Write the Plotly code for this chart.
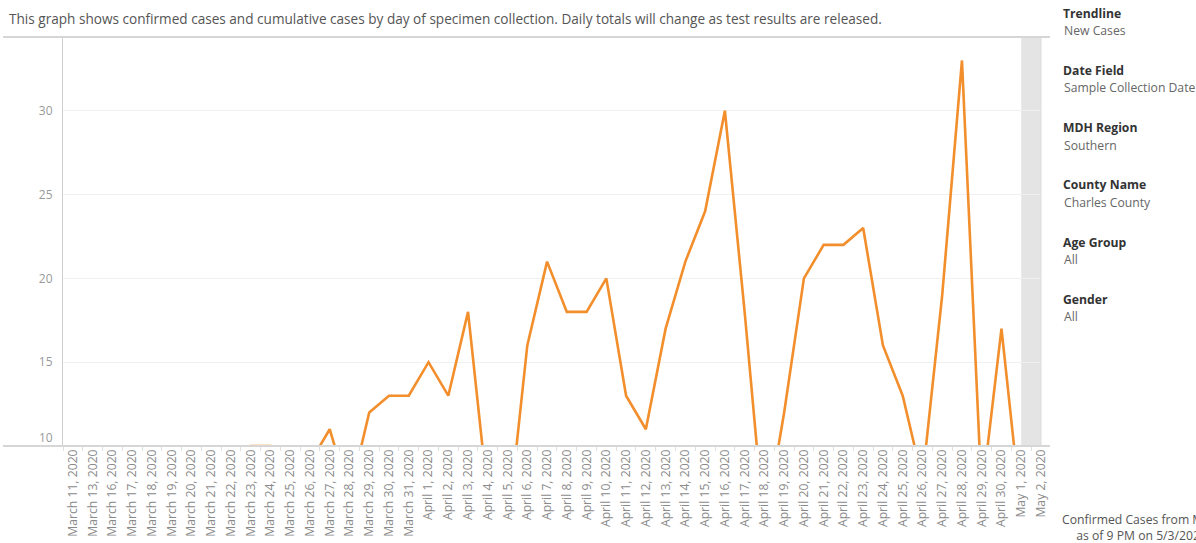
import plotly.graph_objects as go

# ---------------- data ----------------
dates = [
    "March 11, 2020", "March 13, 2020", "March 16, 2020", "March 17, 2020",
    "March 18, 2020", "March 19, 2020", "March 20, 2020", "March 21, 2020",
    "March 22, 2020", "March 23, 2020", "March 24, 2020", "March 25, 2020",
    "March 26, 2020", "March 27, 2020", "March 28, 2020", "March 29, 2020",
    "March 30, 2020", "March 31, 2020",
    "April 1, 2020", "April 2, 2020", "April 3, 2020", "April 4, 2020",
    "April 5, 2020", "April 6, 2020", "April 7, 2020", "April 8, 2020",
    "April 9, 2020", "April 10, 2020", "April 11, 2020", "April 12, 2020",
    "April 13, 2020", "April 14, 2020", "April 15, 2020", "April 16, 2020",
    "April 17, 2020", "April 18, 2020", "April 19, 2020", "April 20, 2020",
    "April 21, 2020", "April 22, 2020", "April 23, 2020", "April 24, 2020",
    "April 25, 2020", "April 26, 2020", "April 27, 2020", "April 28, 2020",
    "April 29, 2020", "April 30, 2020",
    "May 1, 2020", "May 2, 2020",
]
new_cases = [
    1, 1, 2, 1, 3, 2, 4, 3, 5, 10, 10, 6, 9, 11, 7, 12, 13, 13,
    15, 13, 18, 7, 5, 16, 21, 18, 18, 20, 13, 11, 17, 21, 24, 30,
    18, 5, 12, 20, 22, 22, 23, 16, 13, 8, 19, 33, 7, 17,
    6, 2,
]
y_ticks = [10, 15, 20, 25, 30]
y_tick_labels = ["10", "15", "20", "25", "30"]
y_range = [10, 34.4]
incomplete_start = "May 1, 2020"
incomplete_end = "May 2, 2020"

title_text = ("This graph shows confirmed cases and cumulative cases by day of specimen "
              "collection. Daily totals will change as test results are released.")
filter_names = ["Trendline", "Date Field", "MDH Region", "County Name", "Age Group", "Gender"]
filter_values = ["New Cases", "Sample Collection Date", "Southern", "Charles County", "All", "All"]
footnote_text = "Confirmed Cases from MDH<br>as of 9 PM on 5/3/2020"

# ---------------- layout helpers ----------------
W, H = 1196, 543
PL, PR, PT, PB = 63, 1041, 37, 446
FONT = "Open Sans"


def px(x):
    return (x - PL) / (PR - PL)


def py(y):
    return (PB - y) / (PB - PT)


fig = go.Figure()
fig.add_trace(go.Scatter(
    x=dates, y=new_cases, mode="lines",
    line=dict(color="#F28E2B", width=2.6),
    hoverinfo="x+y", showlegend=False,
))

shapes = [
    # incomplete-data band
    dict(type="rect", xref="x", yref="paper", x0=incomplete_start, x1=incomplete_end,
         y0=0, y1=1, fillcolor="#E4E4E4", line=dict(width=0), layer="below"),
    # top rule
    dict(type="line", xref="paper", yref="paper", x0=px(3), x1=px(1050), y0=1, y1=1,
         line=dict(color="#D6D6D6", width=2)),
    # bottom rule
    dict(type="line", xref="paper", yref="paper", x0=px(3), x1=px(1050), y0=0, y1=0,
         line=dict(color="#D6D6D6", width=2)),
    # right border
    dict(type="line", xref="paper", yref="paper", x0=1, x1=1, y0=0, y1=1,
         line=dict(color="#DCDCDC", width=1)),
]

annotations = [
    dict(text=title_text, xref="paper", yref="paper", x=px(7), y=py(19),
         xanchor="left", yanchor="middle", showarrow=False,
         font=dict(family=FONT, size=13.6, color="#555555")),
    # bottom tick label sits slightly above the axis floor, as in the original
    dict(text=y_tick_labels[0], xref="paper", yref="y", x=px(55), y=y_ticks[0],
         yshift=9, xanchor="right", yanchor="middle", showarrow=False,
         font=dict(family=FONT, size=12, color="#999999")),
]
y0 = 13.3
for i, (name, val) in enumerate(zip(filter_names, filter_values)):
    yy = y0 + i * 57.2
    annotations.append(dict(text="<b>" + name + "</b>", xref="paper", yref="paper",
                            x=px(1061), y=py(yy), xanchor="left", yanchor="middle",
                            showarrow=False,
                            font=dict(family=FONT, size=12.2, color="#333333")))
    annotations.append(dict(text=val, xref="paper", yref="paper",
                            x=px(1062), y=py(yy + 17.5), xanchor="left", yanchor="middle",
                            showarrow=False,
                            font=dict(family=FONT, size=12.2, color="#666666")))
annotations.append(dict(text=footnote_text, xref="paper", yref="paper",
                        x=px(1141), y=py(527), xanchor="center", yanchor="middle",
                        align="center", showarrow=False,
                        font=dict(family=FONT, size=12.2, color="#555555")))

ticktext_y = ["" if i == 0 else t for i, t in enumerate(y_tick_labels)]

fig.update_layout(
    width=W, height=H,
    margin=dict(l=PL, r=W - PR, t=PT, b=H - PB, pad=0, autoexpand=False),
    paper_bgcolor="white", plot_bgcolor="white",
    font=dict(family=FONT, color="#888888"),
    shapes=shapes, annotations=annotations,
    xaxis=dict(
        type="category", range=[-0.5, len(dates) - 1], automargin=False,
        tickangle=-90, tickfont=dict(family=FONT, size=12.2, color="#8A8A8A"),
        showgrid=False, zeroline=False, showline=False,
        ticks="outside", tickson="boundaries", ticklen=4, tickcolor="#E0E0E0",
        fixedrange=True,
    ),
    yaxis=dict(
        range=y_range, tickvals=y_ticks, ticktext=ticktext_y, automargin=False,
        tickfont=dict(family=FONT, size=12, color="#999999"),
        showgrid=True, gridcolor="#F0F0F0", gridwidth=1,
        zeroline=False, showline=True, linecolor="#D0D0D0", linewidth=1,
        ticks="", ticklabelstandoff=7, fixedrange=True,
    ),
)

fig.write_html("out.html", config={"displayModeBar": False},
               post_script="document.body.style.margin='0px';")
